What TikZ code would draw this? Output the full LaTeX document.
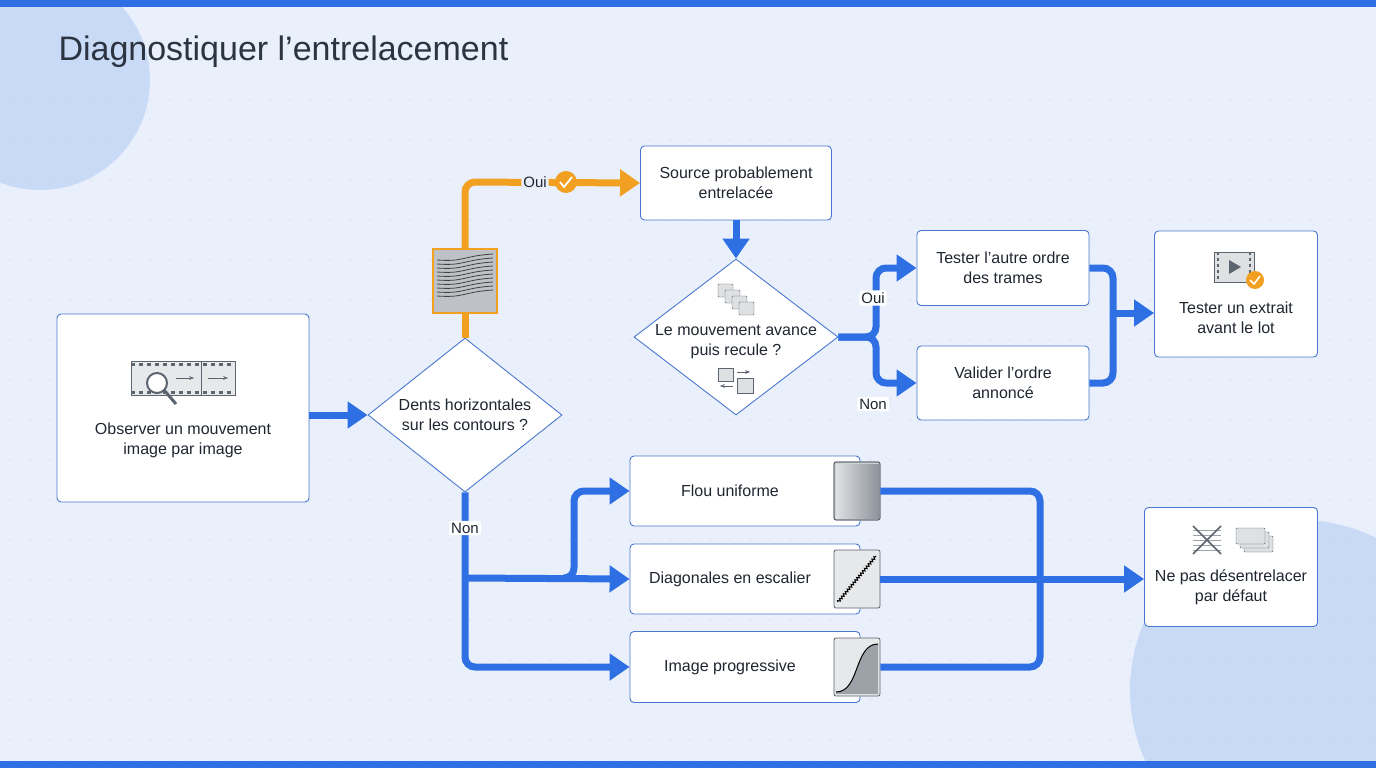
\documentclass[tikz,border=0pt]{standalone}
\usepackage{fontspec}
\setmainfont{Liberation Sans}
\usetikzlibrary{shapes.geometric,arrows.meta,decorations.pathmorphing}
\definecolor{bg}{HTML}{EAF0FB}
\definecolor{blu}{HTML}{2F6FE4}
\definecolor{circ}{HTML}{C9DAF7}
\definecolor{org}{HTML}{F2A022}
\definecolor{bd}{HTML}{4A78D0}
\definecolor{txt}{HTML}{1F2630}
\definecolor{ttl}{HTML}{2B3440}
\definecolor{ico}{HTML}{5C6470}
\begin{document}
\begin{tikzpicture}[x=1pt,y=-1pt,
  box/.style={draw=bd,line width=0.9pt,fill=white,rounded corners=4pt,align=center,font=\fontsize{16}{20}\selectfont,text=txt,inner sep=0pt},
  dia/.style={diamond,draw=bd,line width=0.9pt,fill=white,inner sep=0pt},
  tx/.style={font=\fontsize{16}{20}\selectfont,text=txt,align=center},
  flow/.style={draw=blu,line width=7pt,rounded corners=10pt,-{Triangle[length=20pt,width=26pt]}},
  line/.style={draw=blu,line width=7pt,rounded corners=10pt},
  lbl/.style={fill=white,font=\fontsize{15}{18}\selectfont,text=txt,inner sep=2pt,rounded corners=2pt},
  thumb/.style={draw=ico,line width=0.8pt,rounded corners=2pt,minimum width=46pt,minimum height=58pt}]
\useasboundingbox (0,0) rectangle (1376,768);
\fill[bg] (0,0) rectangle (1376,768);
\begin{scope}
\clip (0,0) rectangle (1376,768);
\fill[circ] (40,80) circle (110);
\fill[circ] (1300,690) circle (170);
\foreach \x in {10,30,...,1370}{\foreach \y in {100,120,...,760}{\fill[circ!60!gray!70] (\x,\y) circle (0.7);}}
\end{scope}
\fill[blu] (0,0) rectangle (1376,7);
\fill[blu] (0,761) rectangle (1376,768);
\node[anchor=west,font=\fontsize{34}{38}\selectfont,text=ttl] (title) at (55,52) {Diagnostiquer l’entrelacement};

% nodes
\node[box,minimum width=252pt,minimum height=188pt] (obs) at (183,408) {};
\node[tx] (obst) at (183,440) {Observer un mouvement\\image par image};
\node[draw=ico,fill=ico!15,line width=1pt,minimum width=104pt,minimum height=34pt,inner sep=0pt] (film) at (183,378) {};
\draw[ico,line width=1pt] (201,361)--(201,395);
\draw[ico,line width=3pt,dash pattern=on 4pt off 4pt] (131,364)--(235,364) (131,392)--(235,392);
\draw[ico,-{Stealth}] (176,378)--(194,378);
\draw[ico,-{Stealth}] (208,378)--(228,378);
\draw[ico,line width=2pt,fill=white] (157,383) circle (10);
\draw[ico,line width=3pt] (164,390)--(176,404);

\node[dia,minimum width=194pt,minimum height=154pt] (d1) at (465,415) {};
\node[tx] (d1t) at (465,415) {Dents horizontales\\sur les contours ?};
\node[box,minimum width=191pt,minimum height=74pt] (src) at (736,183) {Source probablement\\entrelacée};
\node[dia,minimum width=204pt,minimum height=156pt] (d2) at (736,337) {};
\node[tx] (d2t) at (736,342) {Le mouvement avance\\puis recule ?};
\node[box,minimum width=172pt,minimum height=75pt] (tst) at (1003,268) {Tester l’autre ordre\\des trames};
\node[box,minimum width=172pt,minimum height=74pt] (val) at (1003,383) {Valider l’ordre\\annoncé};
\node[box,minimum width=163pt,minimum height=126pt] (ext) at (1236,294) {};
\node[tx] (extt) at (1236,318) {Tester un extrait\\avant le lot};
\node[box,minimum width=230pt,minimum height=70pt] (flou) at (745,491) {\hspace*{-30pt}Flou uniforme};
\node[box,minimum width=230pt,minimum height=70pt] (diag) at (745,579) {\hspace*{-30pt}Diagonales en escalier};
\node[box,minimum width=230pt,minimum height=71pt] (prog) at (745,667) {\hspace*{-30pt}Image progressive};
\node[box,minimum width=173pt,minimum height=119pt] (nep) at (1231,567) {};
\node[tx] (nept) at (1231,587) {Ne pas désentrelacer\\par défaut};

% icon above d1
\node[draw=org,line width=1.2pt,fill=ico!40,minimum size=64pt,inner sep=0pt] (ic1) at (465,281) {};
\foreach \i in {0,...,9}{\draw[black!75,line width=0.8pt] (437,260+4*\i) .. controls (465,262+4*\i) and (462,256+4*\i) .. (493,254+4*\i);}
% thumbnails
\node[thumb,fill=ico!30] (t1) at (857,491) {};
\shade[left color=ico!20,right color=ico!70] (836,464) rectangle (879,518);
\draw[ico,line width=0.8pt,rounded corners=2pt] (834,462) rectangle (880,520);
\node[thumb,fill=ico!15] (t2) at (857,579) {};
\draw[black,line width=1pt,decorate,decoration={zigzag,amplitude=1.2pt,segment length=3pt}] (838,602)--(876,556);
\node[thumb,fill=ico!15] (t3) at (857,667) {};
\fill[ico!60] (836,692) .. controls (860,692) and (854,644) .. (878,644) -- (878,694) -- (836,694) -- cycle;
\draw[black,line width=1pt] (836,692) .. controls (860,692) and (854,644) .. (878,644);
% d2 icons
\foreach \k in {0,1,2,3}{\draw[ico,fill=ico!20,rounded corners=1pt] (718+7*\k,284+6*\k) rectangle (733+7*\k,297+6*\k);}
\draw[ico,fill=ico!20] (718,368) rectangle (733,381);
\draw[ico,fill=ico!20] (737,378) rectangle (753,393);
\draw[ico,-{Stealth}] (737,372)--(750,372);
\draw[ico,-{Stealth}] (733,386)--(720,386);
% ext icon
\draw[ico,line width=1pt,fill=ico!20] (1214,252) rectangle (1254,282);
\draw[ico,line width=2.5pt,dash pattern=on 3pt off 3pt] (1218,252)--(1218,282) (1250,252)--(1250,282);
\fill[ico] (1229,260)--(1229,274)--(1241,267)--cycle;
\fill[org] (1255,280) circle (9);
\draw[white,line width=1.5pt] (1250,280)--(1254,284)--(1260,276);
% nep icons
\foreach \y in {530,535,...,550}{\draw[ico!60] (1193,\y)--(1221,\y);}
\draw[ico,line width=1.5pt] (1193,526)--(1221,554) (1221,526)--(1193,554);
\draw[ico,fill=ico!20,rounded corners=1pt] (1244,536) rectangle (1273,552);
\draw[ico,fill=ico!20,rounded corners=1pt] (1240,532) rectangle (1269,548);
\draw[ico,fill=ico!20,rounded corners=1pt] (1236,528) rectangle (1265,544);

% connectors
\draw[flow] (obs.east |- 0,415) -- (d1.west);
\draw[org,line width=7pt] (d1.north) -- (ic1.south);
\draw[org,line width=7pt,rounded corners=10pt,-{Triangle[length=20pt,width=26pt]}] (ic1.north) -- (465,182) -- (src.west);
\node[lbl,fill=bg] (oui1) at (535,182) {Oui};
\fill[org] (566,182) circle (11);
\draw[white,line width=1.8pt] (560,182)--(564,187)--(572,177);
\draw[flow] (src.south) -- (d2.north);
\draw[flow] (d2.east) -- (876,337) -- (876,268) -- (tst.west);
\draw[flow] (d2.east) -- (876,337) -- (876,383) -- (val.west);
\node[lbl] (oui2) at (873,298) {Oui};
\node[lbl] (non2) at (873,404) {Non};
\draw[line] (tst.east) -- (1113,268) -- (1113,313);
\draw[line] (val.east) -- (1113,383) -- (1113,313);
\draw[flow] (1110,313) -- (ext.west |- 0,313);
\draw[flow] (d1.south) -- (465,667) -- (prog.west);
\draw[flow] (465,578) -- (diag.west);
\draw[flow] (565,578) -- (574,578) -- (574,491) -- (flou.west);
\node[lbl] (non1) at (465,528) {Non};
\draw[line] (t1.east) -- (1040,491) -- (1040,579);
\draw[line] (t3.east) -- (1040,667) -- (1040,579);
\draw[flow] (t2.east) -- (nep.west |- 0,579);
\end{tikzpicture}
\end{document}
